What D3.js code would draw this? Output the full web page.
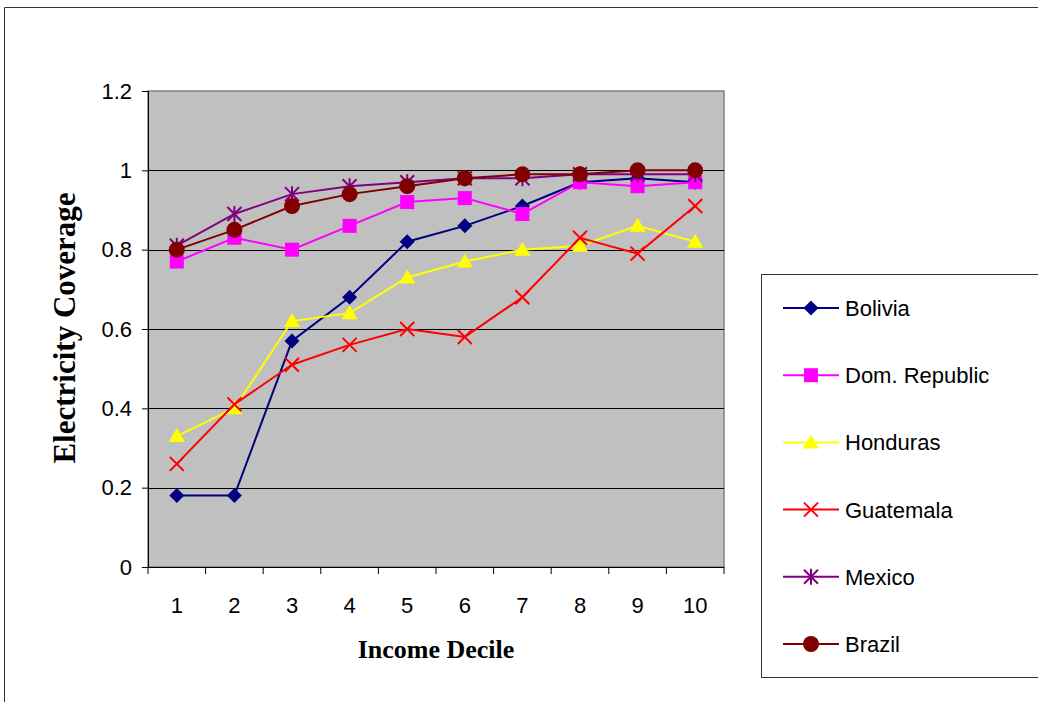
<!DOCTYPE html>
<html>
<head>
<meta charset="utf-8">
<script src="https://cdn.jsdelivr.net/npm/d3@7"></script>
<style>
  body { margin: 0; background: #fff; }
  svg { display: block; }
</style>
</head>
<body>
<svg id="chart" width="1038" height="702"></svg>
<script>
// Electricity coverage by income decile
const deciles = [1, 2, 3, 4, 5, 6, 7, 8, 9, 10];
const yTicks = [0, 0.2, 0.4, 0.6, 0.8, 1, 1.2];

const bolivia   = [0.18, 0.18, 0.57, 0.68, 0.82, 0.86, 0.91, 0.97, 0.98, 0.97];
const domRep    = [0.77, 0.83, 0.80, 0.86, 0.92, 0.93, 0.89, 0.97, 0.96, 0.97];
const honduras  = [0.33, 0.40, 0.62, 0.64, 0.73, 0.77, 0.80, 0.81, 0.86, 0.82];
const guatemala = [0.26, 0.41, 0.51, 0.56, 0.60, 0.58, 0.68, 0.83, 0.79, 0.91];
const mexico    = [0.81, 0.89, 0.94, 0.96, 0.97, 0.98, 0.98, 0.99, 0.99, 0.99];
const brazil    = [0.80, 0.85, 0.91, 0.94, 0.96, 0.98, 0.99, 0.99, 1.00, 1.00];

const seriesNames = ["Bolivia", "Dom. Republic", "Honduras", "Guatemala", "Mexico", "Brazil"];
const seriesValues = [bolivia, domRep, honduras, guatemala, mexico, brazil];
const seriesColors = ["#000080", "#FF00FF", "#FFFF00", "#FF0000", "#800080", "#800000"];
const seriesMarkers = ["diamond", "square", "triangle", "x", "star", "circle"];

const svg = d3.select("#chart");

// outer frame
svg.append("path")
  .attr("d", "M4.5,702 L4.5,7.5 L1038,7.5")
  .attr("fill", "none").attr("stroke", "#333").attr("stroke-width", 1);

const plot = { left: 148, top: 91, right: 724, bottom: 567 };

const x = d3.scaleBand().domain(deciles).range([plot.left, plot.right]);
const y = d3.scaleLinear().domain([0, 1.2]).range([plot.bottom, plot.top]);
const cx = d => x(d) + x.bandwidth() / 2;

// plot background
svg.append("rect")
  .attr("x", plot.left).attr("y", plot.top)
  .attr("width", plot.right - plot.left).attr("height", plot.bottom - plot.top)
  .attr("fill", "#C0C0C0").attr("stroke", "#808080").attr("stroke-width", 1.5);

// gridlines
svg.append("g").selectAll("line")
  .data(yTicks.filter(t => t > 0 && t < 1.2))
  .join("line")
  .attr("x1", plot.left).attr("x2", plot.right)
  .attr("y1", d => Math.round(y(d)) + 0.5).attr("y2", d => Math.round(y(d)) + 0.5)
  .attr("stroke", "#000").attr("stroke-width", 1);

// y axis
const yAxis = svg.append("g")
  .attr("transform", `translate(${plot.left},0)`)
  .call(d3.axisLeft(y).tickValues(yTicks).tickSize(6).tickPadding(10)
    .tickFormat(d => d3.format("")(+d.toFixed(1))));
yAxis.select(".domain").attr("stroke", "#000").attr("stroke-width", 1);
yAxis.selectAll(".tick line").attr("stroke", "#000");
yAxis.selectAll("text")
  .attr("font-family", "Liberation Sans, Arial, sans-serif")
  .attr("font-size", 22).attr("fill", "#000");

// x axis with ticks on category boundaries
const xAxisG = svg.append("g").attr("transform", `translate(0,${plot.bottom})`);
xAxisG.append("line")
  .attr("x1", plot.left).attr("x2", plot.right)
  .attr("y1", 0.5).attr("y2", 0.5)
  .attr("stroke", "#000").attr("stroke-width", 1);
xAxisG.selectAll("line.tk")
  .data(deciles.concat([11]))
  .join("line").attr("class", "tk")
  .attr("x1", (d, i) => plot.left + i * x.bandwidth())
  .attr("x2", (d, i) => plot.left + i * x.bandwidth())
  .attr("y1", 0).attr("y2", 7)
  .attr("stroke", "#000");
xAxisG.selectAll("text")
  .data(deciles)
  .join("text")
  .attr("x", d => cx(d)).attr("y", 46)
  .attr("text-anchor", "middle")
  .attr("font-family", "Liberation Sans, Arial, sans-serif")
  .attr("font-size", 22).attr("fill", "#000")
  .text(d => d);

// axis titles
svg.append("text")
  .attr("x", 436).attr("y", 658)
  .attr("text-anchor", "middle")
  .attr("font-family", "Liberation Serif, 'Times New Roman', serif")
  .attr("font-weight", "bold").attr("font-size", 26)
  .text("Income Decile");

svg.append("text")
  .attr("transform", `translate(75,328) rotate(-90)`)
  .attr("text-anchor", "middle")
  .attr("font-family", "Liberation Serif, 'Times New Roman', serif")
  .attr("font-weight", "bold").attr("font-size", 31)
  .text("Electricity Coverage");

// marker drawing
function drawMarker(g, type, color) {
  switch (type) {
    case "diamond":
      g.append("path").attr("d", "M0,-7.5 L7.5,0 L0,7.5 L-7.5,0 Z").attr("fill", color);
      break;
    case "square":
      g.append("rect").attr("x", -7).attr("y", -7).attr("width", 14).attr("height", 14).attr("fill", color);
      break;
    case "triangle":
      g.append("path").attr("d", "M0,-8 L8,6 L-8,6 Z").attr("fill", color);
      break;
    case "x":
      g.append("path").attr("d", "M-7,-7 L7,7 M-7,7 L7,-7")
        .attr("stroke", color).attr("stroke-width", 2).attr("fill", "none");
      break;
    case "star":
      g.append("path").attr("d", "M-7,-7 L7,7 M-7,7 L7,-7 M0,-8 L0,8")
        .attr("stroke", color).attr("stroke-width", 2).attr("fill", "none");
      break;
    case "circle":
      g.append("circle").attr("r", 8).attr("fill", color);
      break;
  }
}

const line = d3.line().x((d, i) => cx(deciles[i])).y(d => y(d));

seriesValues.forEach((vals, s) => {
  const g = svg.append("g");
  g.append("path")
    .datum(vals)
    .attr("d", line)
    .attr("fill", "none")
    .attr("stroke", seriesColors[s])
    .attr("stroke-width", 2);
  vals.forEach((v, i) => {
    const m = g.append("g").attr("transform", `translate(${cx(deciles[i])},${y(v)})`);
    drawMarker(m, seriesMarkers[s], seriesColors[s]);
  });
});

// legend
const legend = svg.append("g");
legend.append("rect")
  .attr("x", 761.5).attr("y", 274.5).attr("width", 290).attr("height", 403)
  .attr("fill", "#fff").attr("stroke", "#333").attr("stroke-width", 1);

seriesNames.forEach((name, s) => {
  const ly = 308 + s * 67.2;
  const g = legend.append("g");
  g.append("line")
    .attr("x1", 783).attr("x2", 839).attr("y1", ly).attr("y2", ly)
    .attr("stroke", seriesColors[s]).attr("stroke-width", 2);
  const m = g.append("g").attr("transform", `translate(811,${ly})`);
  drawMarker(m, seriesMarkers[s], seriesColors[s]);
  g.append("text")
    .attr("x", 845).attr("y", ly + 8)
    .attr("font-family", "Liberation Sans, Arial, sans-serif")
    .attr("font-size", 22).attr("fill", "#000")
    .text(name);
});
</script>
</body>
</html>
